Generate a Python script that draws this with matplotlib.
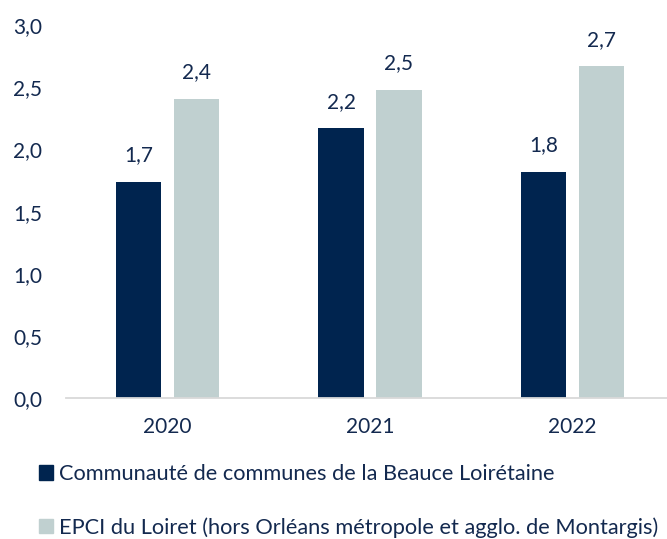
import numpy as np
import matplotlib.pyplot as plt
from matplotlib.patches import Patch

years = ['2020', '2021', '2022']
beauce = [1.74, 2.17, 1.82]
epci = [2.41, 2.48, 2.67]
labels = ['Communauté de communes de la Beauce Loirétaine',
          'EPCI du Loiret (hors Orléans métropole et agglo. de Montargis)']

navy = '#00244F'
grey = '#C0D0D0'
text_col = '#13294F'

plt.rcParams['font.family'] = ['Lato', 'DejaVu Sans']
plt.rcParams['font.size'] = 15

fig = plt.figure(figsize=(6.67, 5.39), dpi=100)
ax = fig.add_axes([0.099, 0.2616, 0.9115, 0.6913])

x = np.arange(len(years))
w = 0.225
off = 0.143
b1 = ax.bar(x - off, beauce, w, color=navy)
b2 = ax.bar(x + off, epci, w, color=grey)

for bars, vals in [(b1, beauce), (b2, epci)]:
    for rect, v in zip(bars, vals):
        ax.annotate(f'{v:.1f}'.replace('.', ','),
                    (rect.get_x() + rect.get_width() / 2, rect.get_height()),
                    xytext=(0, 12), textcoords='offset points',
                    ha='center', va='bottom', color=text_col, fontsize=15)

ax.set_xlim(-0.5, 2.5)
ax.set_ylim(0, 3.0)
ax.set_yticks(np.arange(0, 3.01, 0.5))
ax.set_yticklabels([f'{t:.1f}'.replace('.', ',') for t in np.arange(0, 3.01, 0.5)])
ax.set_xticks(x)
ax.set_xticklabels(years)
ax.tick_params(axis='y', length=0, pad=17, colors=text_col)
ax.tick_params(axis='x', length=0, pad=14, colors=text_col)

for s in ['top', 'right', 'left']:
    ax.spines[s].set_visible(False)
ax.spines['bottom'].set_color('#D9D9D9')
ax.spines['bottom'].set_linewidth(1.3)

handles = [Patch(color=navy, label=labels[0]), Patch(color=grey, label=labels[1])]
fig.legend(handles=handles, loc='center left', bbox_to_anchor=(0.0585, 0.0705),
           frameon=False, borderpad=0, borderaxespad=0,
           handlelength=0.64, handleheight=0.64, handletextpad=0.27,
           labelspacing=1.5, labelcolor=text_col, fontsize=15.7)

fig.savefig('out.png', dpi=100)
